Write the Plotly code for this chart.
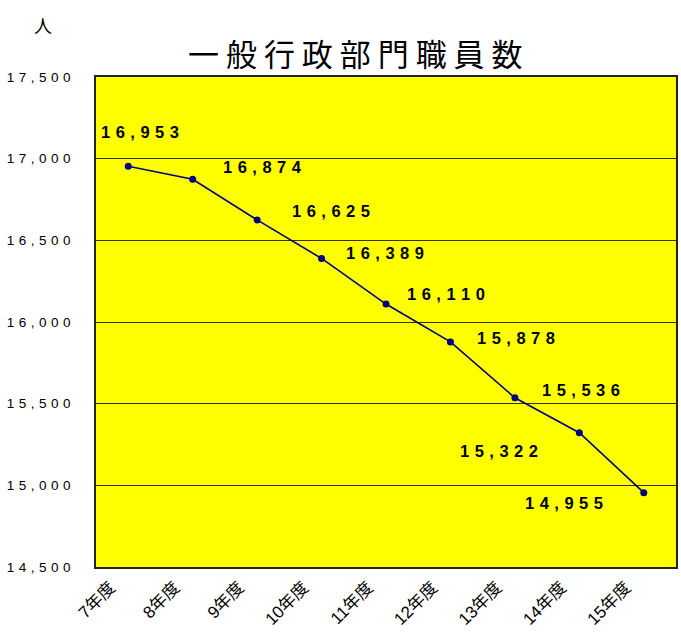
import plotly.graph_objects as go

# 一般行政部門職員数（人）
years = ["7年度", "8年度", "9年度", "10年度", "11年度", "12年度", "13年度", "14年度", "15年度"]
staff = [16953, 16874, 16625, 16389, 16110, 15878, 15536, 15322, 14955]
y_ticks = [14500, 15000, 15500, 16000, 16500, 17000, 17500]

# offsets (px) of each value label from its point
label_dx = [12, 70, 74, 63, 60, 66, 66, -80, -80]
label_dy = [34, 12, 9, 5, 10, 4, 8, -18, -10]

SP = "\u2004"


def spaced(s):
    return SP.join(s)


fig = go.Figure()
fig.add_trace(go.Scatter(
    x=years, y=staff, mode="lines+markers",
    line=dict(color="#000080", width=1.6),
    marker=dict(color="#000080", size=7),
    hoverinfo="skip",
))

for x, v, dx, dy in zip(years, staff, label_dx, label_dy):
    fig.add_annotation(
        x=x, y=v, text=spaced(f"{v:,}"), showarrow=False,
        xshift=dx, yshift=dy,
        font=dict(family="Arial, Liberation Sans", size=16.5, color="black", weight="bold"),
    )

fig.add_annotation(
    text=" ".join("一般行政部門職員数"), xref="paper", yref="paper",
    x=0.447, y=1.0, yanchor="bottom", yshift=0, showarrow=False,
    font=dict(family="Noto Sans CJK JP", size=31, color="black"),
)
fig.add_annotation(
    text="人", xref="paper", yref="paper", x=-0.092, y=1.0,
    xanchor="center", yanchor="bottom", yshift=37, showarrow=False,
    font=dict(family="Noto Sans CJK JP", size=18, color="black"),
)

fig.update_layout(
    width=681, height=635,
    margin=dict(l=96, r=5, t=77, b=68),
    paper_bgcolor="white", plot_bgcolor="#ffff00",
    showlegend=False,
    font=dict(family="Arial, Liberation Sans", color="black"),
)
fig.update_xaxes(
    type="category", range=[-0.5, 8.5], automargin=False,
    showgrid=False, showline=True, mirror=True, linecolor="#222", linewidth=1.5,
    tickangle=-45, tickfont=dict(family="Arial, Noto Sans CJK JP", size=17, color="black"),
    ticks="", ticklabelshift=-18, ticklabelstandoff=2,
)
fig.update_yaxes(
    range=[14500, 17500], tickvals=y_ticks, automargin=False,
    ticktext=[spaced(f"{t:,}") for t in y_ticks],
    showgrid=True, gridcolor="#333300", gridwidth=1,
    showline=True, mirror=True, linecolor="#222", linewidth=1.5,
    zeroline=False, ticks="", ticklabelstandoff=21,
    tickfont=dict(family="Arial, Liberation Sans", size=13.5, color="black"),
)

fig.write_html("out.html")
